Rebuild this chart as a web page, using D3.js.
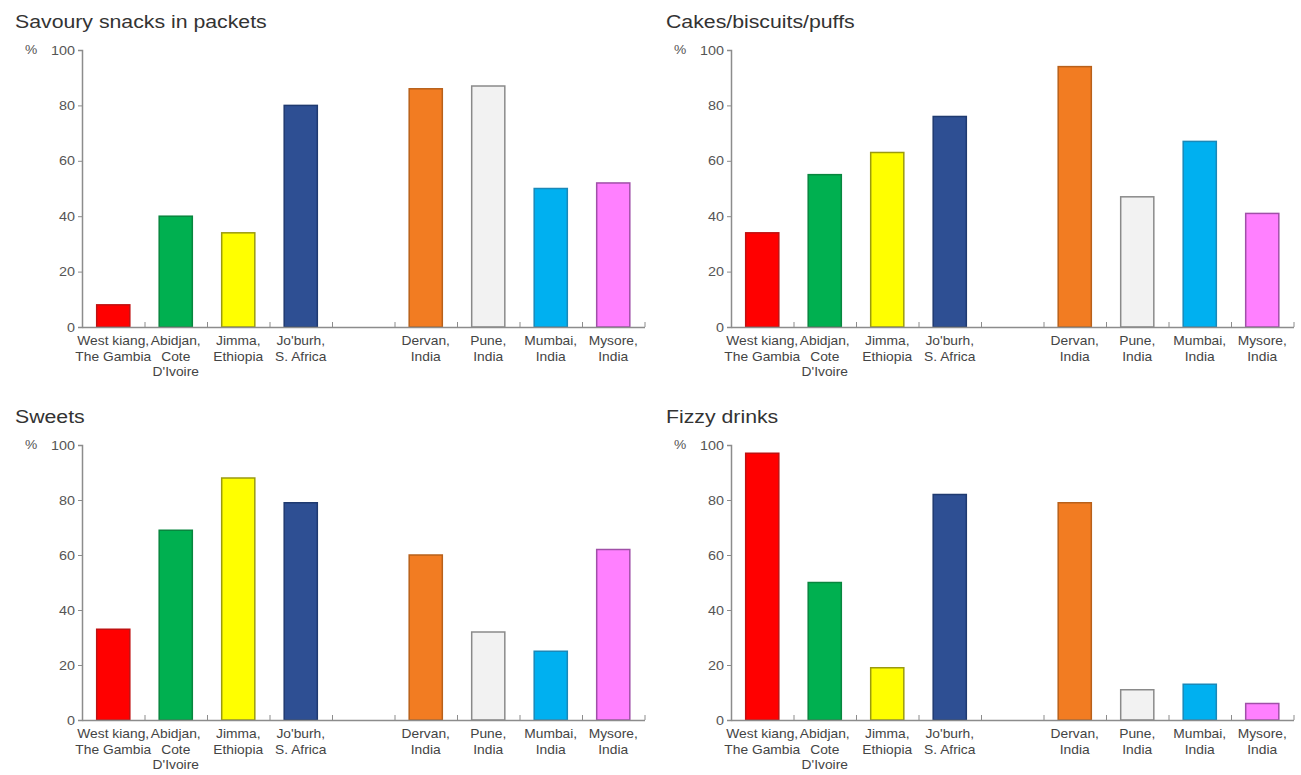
<!DOCTYPE html>
<meta charset="utf-8">
<head>
    <title>Snack consumption by site</title>
    <script src="https://cdn.jsdelivr.net/npm/d3@7/dist/d3.min.js"></script>
</head>
<style>
    body{ margin:0; background:#fff; }
    text{ font-family: Arial, "Liberation Sans", sans-serif; fill:#3a3a3a; }
</style>
<svg width="1301" height="775"></svg>
<script>
    // data
    var sites = ["West kiang,|The Gambia", "Abidjan,|Cote|D'Ivoire", "Jimma,|Ethiopia", "Jo'burh,|S. Africa",
                 "Dervan,|India", "Pune,|India", "Mumbai,|India", "Mysore,|India"];
    var titles = ["Savoury snacks in packets", "Cakes/biscuits/puffs", "Sweets", "Fizzy drinks"];
    var savoury = [8, 40, 34, 80, 86, 87, 50, 52];
    var cakes   = [34, 55, 63, 76, 94, 47, 67, 41];
    var sweets  = [33, 69, 88, 79, 60, 32, 25, 62];
    var fizzy   = [97, 50, 19, 82, 79, 11, 13, 6];
    var yTicks  = [0, 20, 40, 60, 80, 100];

    var fills   = ["#ff0000", "#00b050", "#ffff00", "#2e4f93", "#f27c22", "#f2f2f2", "#00b0f0", "#ff80ff"],
        strokes = ["#c01010", "#08863e", "#9a9a10", "#1f3a70", "#b8601a", "#8a8a8a", "#1a88b8", "#a050a8"];

    var series = [savoury, cakes, sweets, fizzy];
    // slot keys: a blank slot between Jo'burh and Dervan
    var slots = ["s0", "s1", "s2", "s3", "gap", "s4", "s5", "s6", "s7"];

    var sx = 1.15,           // the source picture is a bit stretched sideways
        plotW = 562.5,
        panels = [
            {x: 82,  top: 50,  bottom: 327},
            {x: 731, top: 50,  bottom: 327},
            {x: 82,  top: 445, bottom: 720},
            {x: 731, top: 445, bottom: 720}
        ];

    var svg = d3.select('svg');

    panels.forEach(function(p, pi){
        var g = svg.append('g').attr('transform', 'translate(' + p.x + ',0)');

        var y = d3.scaleLinear().domain([0, 100]).range([p.bottom, p.top]);
        var x = d3.scaleBand().domain(slots).range([0, plotW]).paddingInner(0.47).paddingOuter(0.235);
        var xi = d3.scaleLinear().domain([0, slots.length]).range([0, plotW]);

        // title
        g.append('text')
            .attr('transform', 'translate(' + (pi % 2 ? -65 : -67) + ',' + (p.top - 22) + ') scale(' + sx + ',1)')
            .style('font-size', '18.5px')
            .style('fill', '#333')
            .text(titles[pi]);

        // bars
        var vals = series[pi];
        g.selectAll('rect.bar').data(vals).enter().append('rect')
            .attr('class', 'bar')
            .attr('x', function(d, i){ return x(i < 4 ? 's' + i : 's' + i); })
            .attr('y', function(d){ return y(d); })
            .attr('width', x.bandwidth())
            .attr('height', function(d){ return y(0) - y(d); })
            .style('fill', function(d, i){ return fills[i]; })
            .style('stroke', function(d, i){ return strokes[i]; })
            .style('stroke-width', 1.5);

        // y axis
        var ya = g.append('g')
            .call(d3.axisLeft(y).tickValues(yTicks).tickSize(4).tickPadding(2));
        ya.select('.domain').style('stroke', '#8c8c8c').style('stroke-width', 1.5);
        ya.selectAll('.tick line').style('stroke', '#8c8c8c');
        ya.selectAll('.tick text')
            .attr('transform', 'scale(' + sx + ',1)')
            .style('font-size', '12.5px')
            .style('font-family', 'Arial, "Liberation Sans", sans-serif')
            .style('fill', '#555');

        g.append('text')
            .attr('transform', 'translate(-57,' + (y(100) + 4) + ') scale(' + sx + ',1)')
            .style('font-size', '12px')
            .style('fill', '#555')
            .text('%');

        // x axis with marks at the slot edges
        var xa = g.append('g')
            .attr('transform', 'translate(0,' + y(0) + ')')
            .call(d3.axisBottom(xi).tickValues(d3.range(1, slots.length + 1)).tickSize(-5).tickSizeOuter(0).tickFormat(''));
        xa.select('.domain').style('stroke', '#8c8c8c').style('stroke-width', 1.5);
        xa.selectAll('.tick line').style('stroke', '#8c8c8c');

        // category labels
        sites.forEach(function(s, i){
            var cx = x('s' + i) + x.bandwidth() / 2;
            s.split('|').forEach(function(line, li){
                g.append('text')
                    .attr('transform', 'translate(' + cx + ',' + (y(0) + 18 + li * 15.5) + ') scale(' + sx + ',1)')
                    .attr('text-anchor', 'middle')
                    .style('font-size', '12px')
                    .style('fill', '#444')
                    .text(line);
            });
        });
    });
</script>
